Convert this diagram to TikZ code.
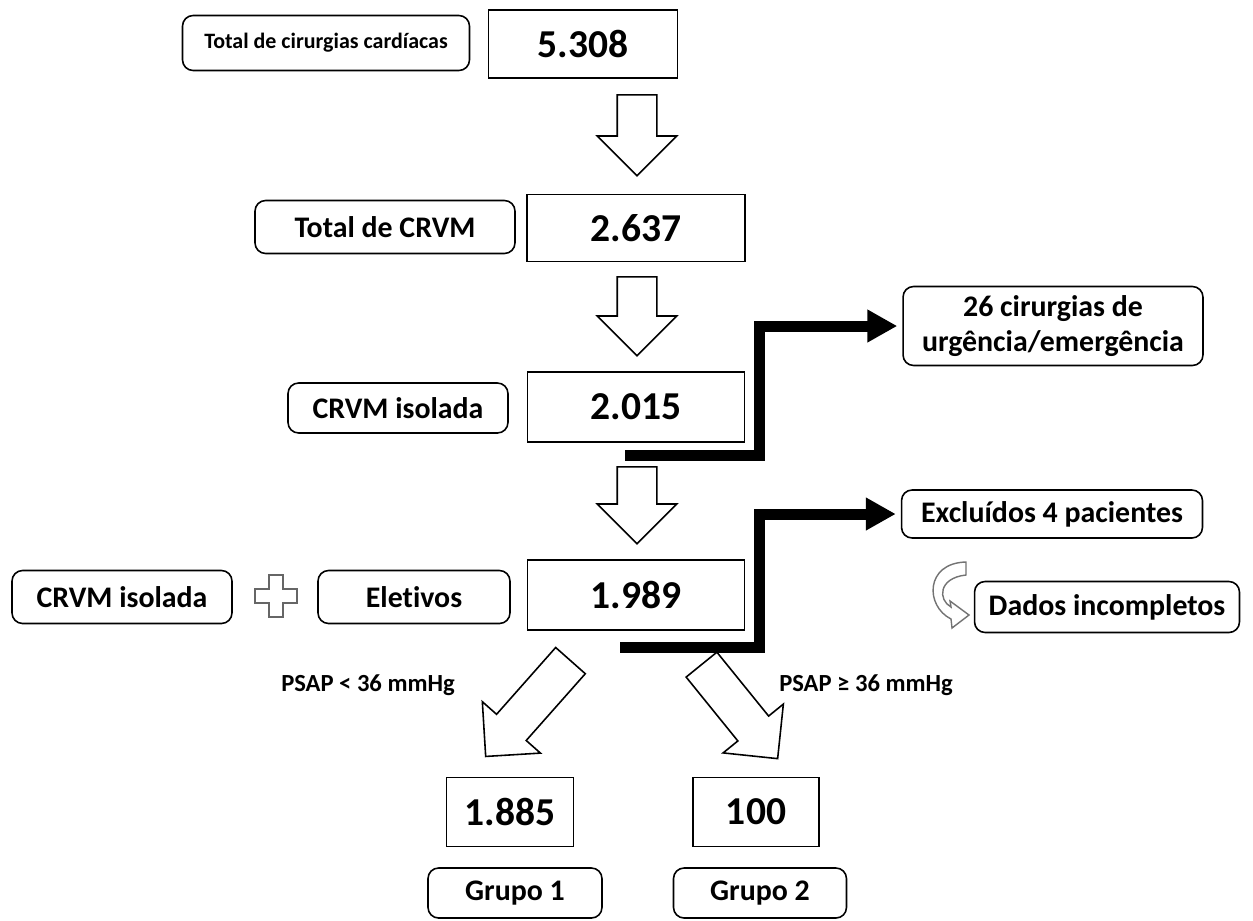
\documentclass[tikz,border=0pt]{standalone}
\usepackage{fontspec}
\setmainfont{Carlito}[Ligatures=NoCommon]
\usetikzlibrary{arrows.meta,shapes.arrows}

\begin{document}
\begin{tikzpicture}[x=0.02cm,y=-0.02cm,
    lbl/.style={draw,rounded corners=6pt,line width=0.9pt,inner sep=0pt,
      align=center,font=\fontsize{17}{19.5}\selectfont\bfseries},
    num/.style={draw,line width=0.9pt,inner sep=0pt,
      font=\fontsize{22.5}{26}\selectfont\bfseries},
    blk/.style={single arrow,draw,line width=0.9pt,fill=white,anchor=tail,
      inner xsep=0pt,inner ysep=0.38cm,single arrow head extend=0.4cm},
    elbow/.style={line width=0.22cm,-{Triangle[length=0.6cm,width=0.62cm]},
      shorten >=0.1cm},
    turn/.style={draw=black!55,fill=white,line width=0.8pt},
    psap/.style={font=\fontsize{14}{16}\selectfont\bfseries}
  ]
    \useasboundingbox (0,0) rectangle (1253,920);

    \node[lbl,minimum width=5.74cm,minimum height=1.1cm,
      font=\fontsize{12.5}{15}\selectfont\bfseries] (lt) at (326,43)
      {Total de cirurgias cardíacas};
    \node[num,minimum width=3.78cm,minimum height=1.36cm] (n1) at (583,44) {5.308};

    \node[lbl,minimum width=5.2cm,minimum height=1.06cm] (lc) at (385,227) {Total de CRVM};
    \node[num,minimum width=4.36cm,minimum height=1.34cm] (n2) at (636,228) {2.637};

    \node[lbl,minimum width=4.4cm,minimum height=1.0cm] (ls) at (398,408) {CRVM isolada};
    \node[num,minimum width=4.34cm,minimum height=1.4cm] (n3) at (636,407) {2.015};

    \node[lbl,minimum width=6.0cm,minimum height=1.58cm] (lu) at (1053,326)
      {26 cirurgias de\\urgência/emergência};
    \node[lbl,minimum width=6.02cm,minimum height=0.96cm] (le) at (1052,514)
      {Excluídos 4 pacientes};
    \node[lbl,minimum width=5.3cm,minimum height=1.02cm] (ld) at (1107,607)
      {Dados incompletos};

    \node[lbl,minimum width=4.4cm,minimum height=1.06cm] (li) at (122,597) {CRVM isolada};
    \node[lbl,minimum width=3.84cm,minimum height=1.06cm] (lv) at (414,597) {Eletivos};
    \node[num,minimum width=4.34cm,minimum height=1.4cm] (n4) at (636,595) {1.989};

    \node[num,minimum width=2.54cm,minimum height=1.38cm] (n5) at (510,812) {1.885};
    \node[num,minimum width=2.52cm,minimum height=1.38cm] (n6) at (756,812) {100};
    \node[lbl,minimum width=3.48cm,minimum height=1.0cm] (lg1) at (515,893) {Grupo 1};
    \node[lbl,minimum width=3.46cm,minimum height=1.0cm] (lg2) at (760,893) {Grupo 2};

    \node[psap] (p1) at (368,685) {PSAP < 36 mmHg};
    \node[psap] (p2) at (866,685) {PSAP ≥ 36 mmHg};

    \node[blk,rotate=-90,minimum height=1.62cm] (a1) at (637,94) {};
    \node[blk,rotate=-90,minimum height=1.58cm] (a2) at (637,276) {};
    \node[blk,rotate=-90,minimum height=1.54cm] (a3) at (637,466) {};
    \node[blk,rotate=228.5,minimum height=2.56cm,single arrow head extend=0.38cm]
      (a4) at (571,660) {};
    \node[blk,rotate=-51,minimum height=2.42cm,single arrow head extend=0.38cm]
      (a5) at (701,664) {};

    \coordinate (s1) at (625,455);
    \coordinate (k1) at (759,455);
    \coordinate (s2) at (620,647);
    \coordinate (k2) at (759,647);
    \draw[elbow] (s1) -- (k1) |- (lu.west);
    \draw[elbow] (s2) -- (k2) |- (le.west);

    \draw[draw=black!60,fill=white,line width=0.9pt,shift={(276,596)}]
      (-7,-21) -- (7,-21) -- (7,-7) -- (21,-7) -- (21,7) -- (7,7) -- (7,21)
      -- (-7,21) -- (-7,7) -- (-21,7) -- (-21,-7) -- (-7,-7) -- cycle;

    \draw[turn] (966,562) .. controls (925,563) and (925,606) .. (951,619)
      -- (952,628) -- (969,615) -- (950,601) -- (951,607)
      .. controls (938,600) and (938,578) .. (966,575) -- cycle;
  \end{tikzpicture}
\end{document}
